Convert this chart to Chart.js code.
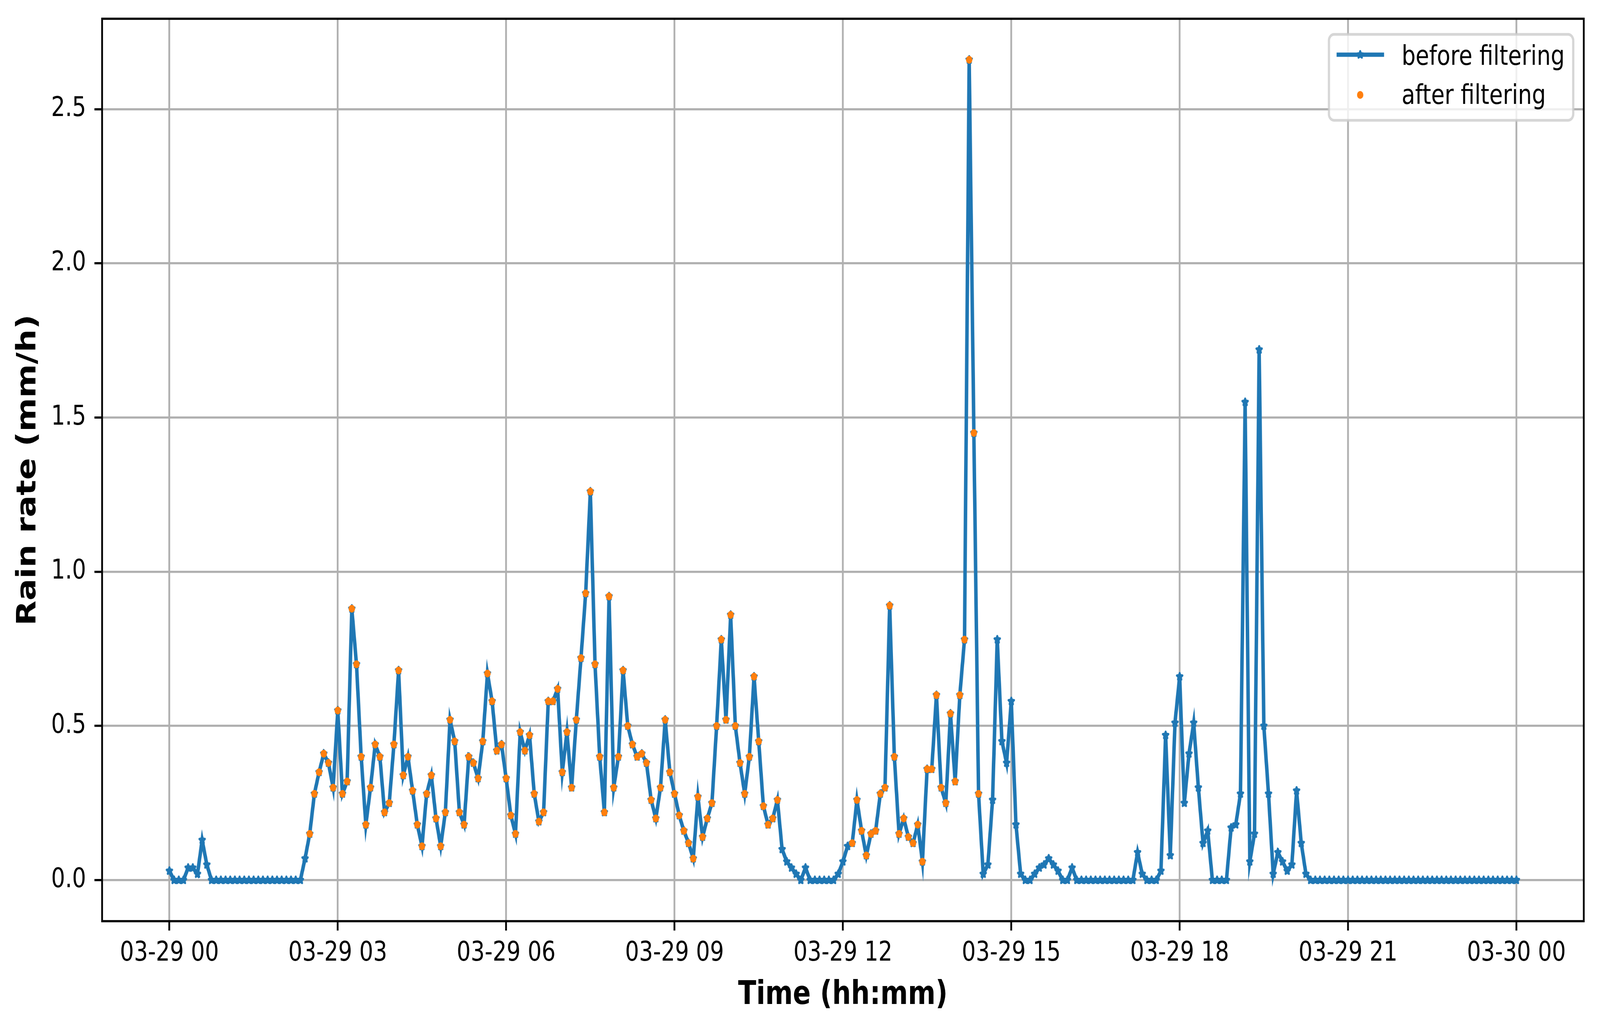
<!DOCTYPE html>
<html>
<head>
<meta charset="utf-8">
<script src="https://cdn.jsdelivr.net/npm/chart.js@4.4.1/dist/chart.umd.min.js"></script>
<style>
html, body { margin: 0; padding: 0; background: #fff; overflow: hidden; }
#viewport { position: relative; width: 100vw; height: 100vh; overflow: hidden; }
#sheet { position: absolute; left: 0; top: 0; width: 5017px; height: 2634px; transform-origin: 0 0; }
#rain-chart { display: block; }
</style>
</head>
<body>
<div id="viewport"><div id="sheet">
<canvas id="rain-chart" width="5017" height="2634" style="width:5017px;height:2634px"></canvas>
</div></div>
<script>
// rain rate (mm/h), one value every 5 minutes from 03-29 00:00 to 03-30 00:00
var stepMinutes = 5;
var rainBefore = [
    0.03, 0, 0, 0, 0.04, 0.04, 0.02, 0.13, 0.05, 0, 0, 0,                 // 00h
    0, 0, 0, 0, 0, 0, 0, 0, 0, 0, 0, 0,                                   // 01h
    0, 0, 0, 0, 0, 0.07, 0.15, 0.28, 0.35, 0.41, 0.38, 0.30,              // 02h
    0.55, 0.28, 0.32, 0.88, 0.70, 0.40, 0.18, 0.30, 0.44, 0.40, 0.22, 0.25, // 03h
    0.44, 0.68, 0.34, 0.40, 0.29, 0.18, 0.11, 0.28, 0.34, 0.20, 0.11, 0.22, // 04h
    0.52, 0.45, 0.22, 0.18, 0.40, 0.38, 0.33, 0.45, 0.67, 0.58, 0.42, 0.44, // 05h
    0.33, 0.21, 0.15, 0.48, 0.42, 0.47, 0.28, 0.19, 0.22, 0.58, 0.58, 0.62, // 06h
    0.35, 0.48, 0.30, 0.52, 0.72, 0.93, 1.26, 0.70, 0.40, 0.22, 0.92, 0.30, // 07h
    0.40, 0.68, 0.50, 0.44, 0.40, 0.41, 0.38, 0.26, 0.20, 0.30, 0.52, 0.35, // 08h
    0.28, 0.21, 0.16, 0.12, 0.07, 0.27, 0.14, 0.20, 0.25, 0.50, 0.78, 0.52, // 09h
    0.86, 0.50, 0.38, 0.28, 0.40, 0.66, 0.45, 0.24, 0.18, 0.20, 0.26, 0.10, // 10h
    0.06, 0.04, 0.02, 0, 0.04, 0, 0, 0, 0, 0, 0, 0.02,                   // 11h
    0.06, 0.11, 0.12, 0.26, 0.16, 0.08, 0.15, 0.16, 0.28, 0.30, 0.89, 0.40, // 12h
    0.15, 0.20, 0.14, 0.12, 0.18, 0.06, 0.36, 0.36, 0.60, 0.30, 0.25, 0.54, // 13h
    0.32, 0.60, 0.78, 2.66, 1.45, 0.28, 0.02, 0.05, 0.26, 0.78, 0.45, 0.38, // 14h
    0.58, 0.18, 0.02, 0, 0, 0.02, 0.04, 0.05, 0.07, 0.05, 0.03, 0,        // 15h
    0, 0.04, 0, 0, 0, 0, 0, 0, 0, 0, 0, 0,                                // 16h
    0, 0, 0, 0.09, 0.02, 0, 0, 0, 0.03, 0.47, 0.08, 0.51,                 // 17h
    0.66, 0.25, 0.41, 0.51, 0.30, 0.12, 0.16, 0, 0, 0, 0, 0.17,           // 18h
    0.18, 0.28, 1.55, 0.06, 0.15, 1.72, 0.50, 0.28, 0.02, 0.09, 0.06, 0.03, // 19h
    0.05, 0.29, 0.12, 0.02, 0, 0, 0, 0, 0, 0, 0, 0,                       // 20h
    0, 0, 0, 0, 0, 0, 0, 0, 0, 0, 0, 0,                                   // 21h
    0, 0, 0, 0, 0, 0, 0, 0, 0, 0, 0, 0,                                   // 22h
    0, 0, 0, 0, 0, 0, 0, 0, 0, 0, 0, 0,                                   // 23h
    0                                                                     // 03-30 00:00
];
// periods where the filtered series keeps its points
var afterWindows = [["02:30", "10:50"], ["12:10", "14:25"]];

var xTicks = [0, 3, 6, 9, 12, 15, 18, 21, 24];
var xTickLabels = ["03-29 00", "03-29 03", "03-29 06", "03-29 09", "03-29 12",
                   "03-29 15", "03-29 18", "03-29 21", "03-30 00"];
var yTicks = [0, 0.5, 1.0, 1.5, 2.0, 2.5];

var seriesLabels = ["before filtering", "after filtering"];
var blue = "#1f77b4";
var orange = "#ff7f0e";

// the window is narrower than asked for, so the 5017x2634 sheet is scaled to fit it
var sheet = document.getElementById("sheet");
sheet.style.transform = "scale(" + (window.innerWidth / 5017) + "," + (window.innerHeight / 2634) + ")";

function toHours(s) {
    var p = s.split(":");
    return Number(p[0]) + Number(p[1]) / 60;
}

var beforePoints = rainBefore.map(function (v, i) {
    return { x: i * stepMinutes / 60, y: v };
});
var afterPoints = beforePoints.filter(function (p) {
    return afterWindows.some(function (w) {
        return p.x >= toHours(w[0]) - 1e-6 && p.x <= toHours(w[1]) + 1e-6;
    });
});

// filled five point star like the matplotlib '*' marker
function makeStar(outer, inner, edge, color) {
    var size = Math.ceil(outer * 2 + edge + 4);
    var c = document.createElement("canvas");
    c.width = size;
    c.height = size;
    var g = c.getContext("2d");
    g.translate(size / 2, size / 2);
    g.beginPath();
    for (var k = 0; k < 10; k++) {
        var r = k % 2 === 0 ? outer : inner;
        var a = -Math.PI / 2 + k * Math.PI / 5;
        g.lineTo(r * Math.cos(a), r * Math.sin(a));
    }
    g.closePath();
    g.fillStyle = color;
    g.fill();
    g.lineJoin = "round";
    g.lineWidth = edge;
    g.strokeStyle = color;
    g.stroke();
    return c;
}
var starMarker = makeStar(9, 4.2, 6, blue);

var tickFont = { family: "DejaVu Sans", size: 69 };
var titleFont = { family: "DejaVu Sans", size: 83, weight: "bold" };

// axes frame on top of the lines, then the legend box
var frameAndLegend = {
    id: "frameAndLegend",
    afterDatasetsDraw: function (chart) {
        var ctx = chart.ctx;
        var a = chart.chartArea;
        ctx.save();
        ctx.strokeStyle = "#000";
        ctx.lineWidth = 5.6;
        ctx.strokeRect(a.left, a.top, a.right - a.left, a.bottom - a.top);

        var bx = a.right - 799, by = a.top + 40, bw = 766, bh = 220;
        ctx.beginPath();
        ctx.roundRect(bx, by, bw, bh, 16);
        ctx.fillStyle = "rgba(255,255,255,0.8)";
        ctx.fill();
        ctx.lineWidth = 7;
        ctx.strokeStyle = "rgba(204,204,204,0.8)";
        ctx.stroke();

        // before filtering: line with star
        ctx.beginPath();
        ctx.moveTo(bx + 24, by + 52);
        ctx.lineTo(bx + 173, by + 52);
        ctx.lineWidth = 11;
        ctx.strokeStyle = blue;
        ctx.stroke();
        ctx.drawImage(starMarker, bx + 98 - starMarker.width / 2, by + 52 - starMarker.height / 2);

        // after filtering: dot
        ctx.beginPath();
        ctx.arc(bx + 98, by + 155, 10, 0, Math.PI * 2);
        ctx.fillStyle = orange;
        ctx.fill();

        ctx.fillStyle = "#000";
        ctx.font = "69px 'DejaVu Sans'";
        ctx.textBaseline = "alphabetic";
        ctx.textAlign = "left";
        ctx.fillText(seriesLabels[0], bx + 228, by + 78);
        ctx.fillText(seriesLabels[1], bx + 228, by + 178);
        ctx.restore();
    }
};

var ctx = document.getElementById("rain-chart");

var chartData = {
    datasets: [{
        label: seriesLabels[0],
        data: beforePoints,
        borderColor: blue,
        backgroundColor: blue,
        borderWidth: 11,
        tension: 0,
        pointStyle: starMarker,
        pointRadius: 10,
        pointHoverRadius: 10,
        order: 1
    }, {
        label: seriesLabels[1],
        data: afterPoints,
        showLine: false,
        borderColor: orange,
        backgroundColor: orange,
        borderWidth: 0,
        pointStyle: "circle",
        pointRadius: 10,
        pointBorderWidth: 0,
        pointHoverRadius: 10,
        order: 0
    }]
};

var chartOptions = {
    responsive: false,
    maintainAspectRatio: false,
    devicePixelRatio: 1,
    animation: false,
    events: [],
    layout: { padding: { left: 0, top: 48, right: 51, bottom: 0 } },
    plugins: {
        legend: { display: false },
        tooltip: { enabled: false }
    },
    scales: {
        x: {
            type: "linear",
            min: -1.2,
            max: 25.2,
            afterBuildTicks: function (scale) {
                scale.ticks = xTicks.map(function (v) { return { value: v }; });
            },
            afterFit: function (scale) {
                scale.height = 276;
                scale.paddingLeft = 0;
                scale.paddingRight = 0;
            },
            grid: {
                color: "#b0b0b0",
                lineWidth: 5.6,
                drawTicks: true,
                tickLength: 24,
                tickColor: "#000",
                tickWidth: 5.6
            },
            border: { display: false },
            ticks: {
                font: tickFont,
                color: "#000",
                padding: 18,
                maxRotation: 0,
                autoSkip: false,
                callback: function (value) {
                    var k = xTicks.indexOf(value);
                    return k >= 0 ? xTickLabels[k] : "";
                }
            },
            title: {
                display: true,
                text: "Time (hh:mm)",
                font: titleFont,
                color: "#000",
                padding: { top: 0, bottom: 36 }
            }
        },
        y: {
            type: "linear",
            min: -0.133,
            max: 2.793,
            afterBuildTicks: function (scale) {
                scale.ticks = yTicks.map(function (v) { return { value: v }; });
            },
            afterFit: function (scale) {
                scale.width = 320;
                scale.paddingTop = 0;
                scale.paddingBottom = 0;
            },
            grid: {
                color: "#b0b0b0",
                lineWidth: 5.6,
                drawTicks: true,
                tickLength: 24,
                tickColor: "#000",
                tickWidth: 5.6
            },
            border: { display: false },
            ticks: {
                font: tickFont,
                color: "#000",
                padding: 26,
                callback: function (value) { return Number(value).toFixed(1); }
            },
            title: {
                display: true,
                text: "Rain rate (mm/h)",
                font: titleFont,
                color: "#000",
                padding: { top: 40, bottom: 0 }
            }
        }
    }
};

var config = {
    type: "line",
    data: chartData,
    options: chartOptions,
    plugins: [frameAndLegend]
};

var rainChart = new Chart(ctx, config);
</script>
</body>
</html>
